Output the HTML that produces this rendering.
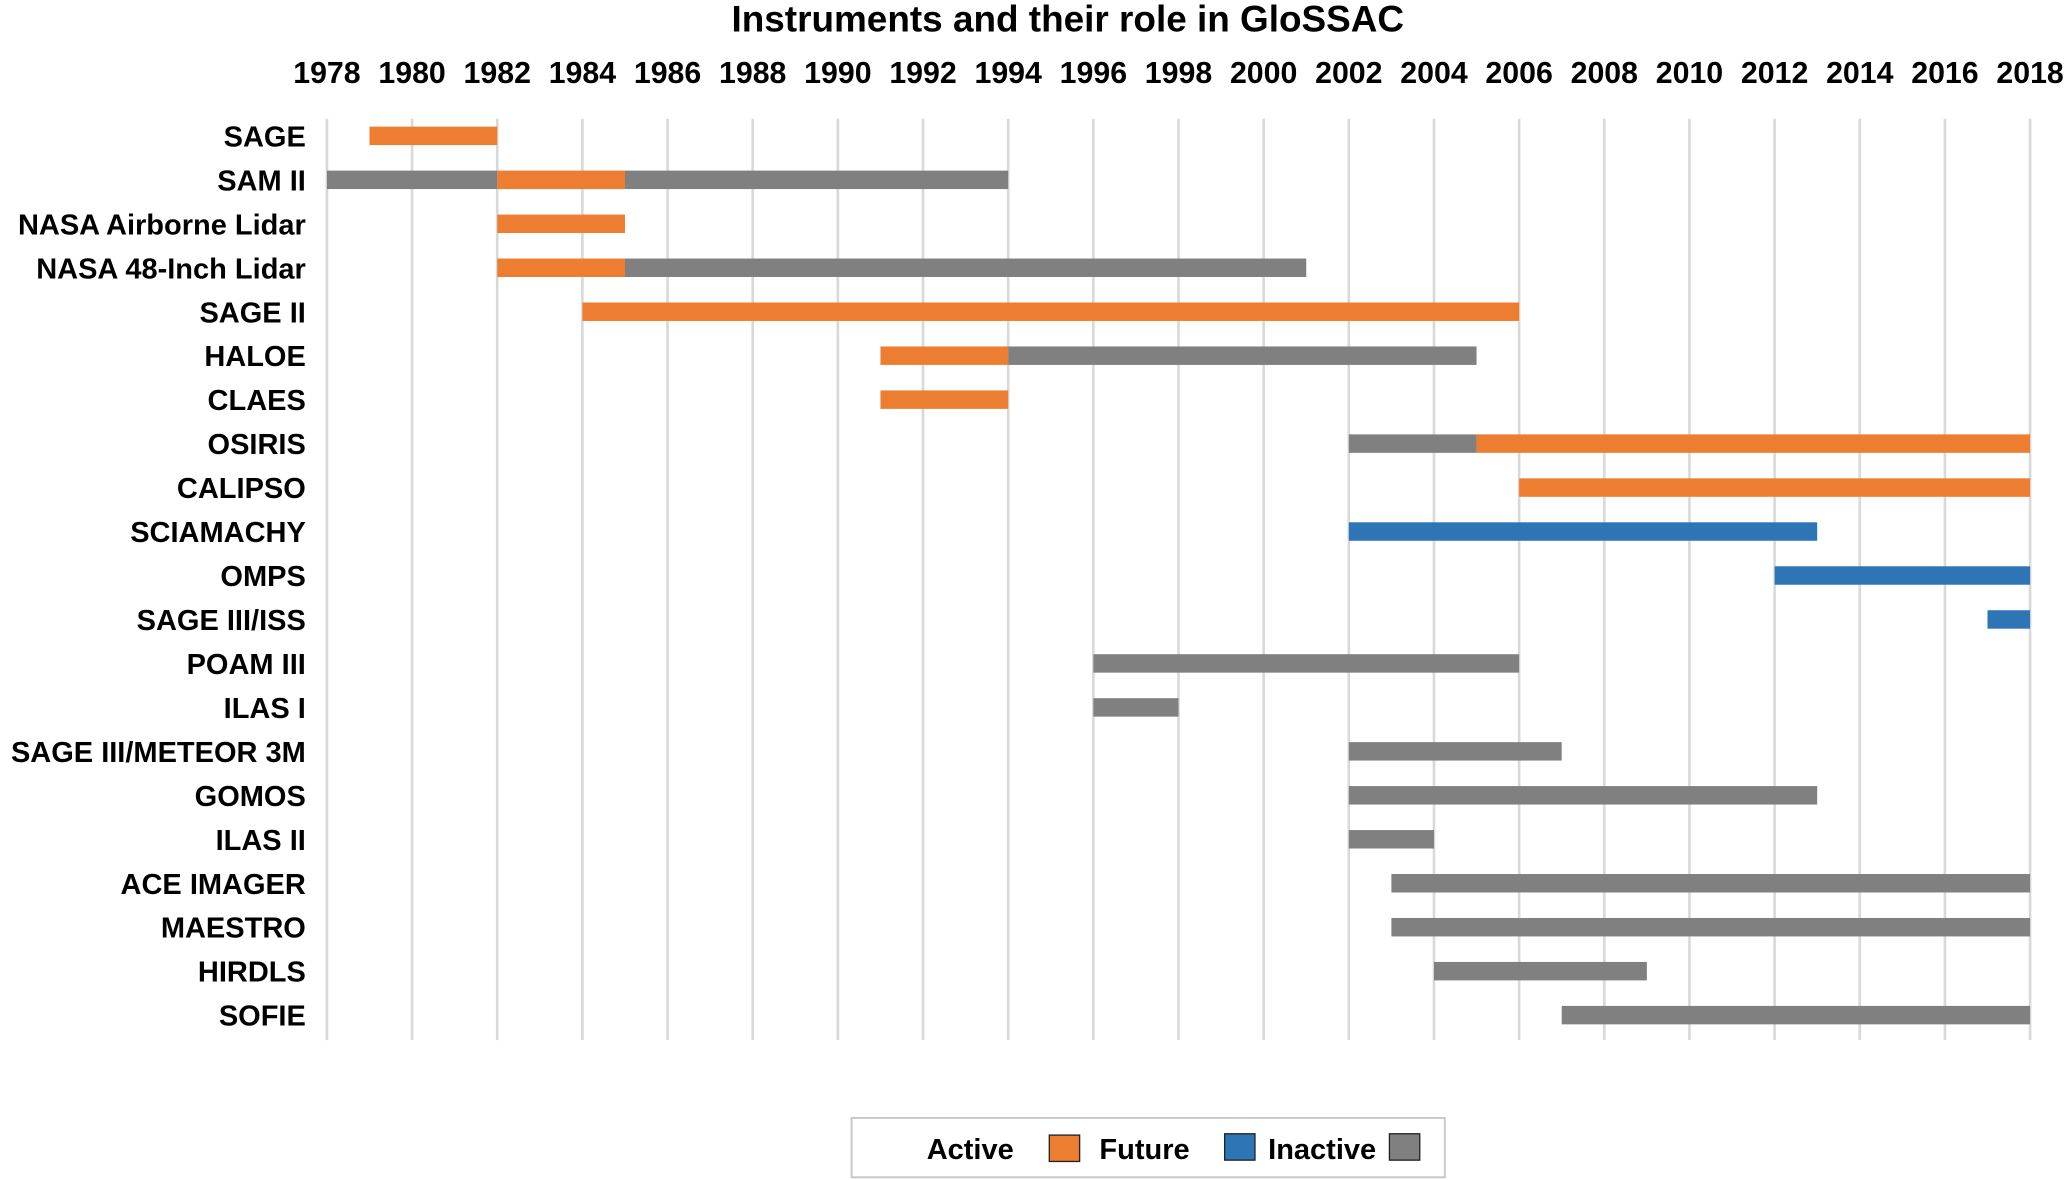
<!DOCTYPE html>
<html><head><meta charset="utf-8"><style>
html,body{margin:0;padding:0;background:#fff;}
svg{display:block;}
text{font-family:"Liberation Sans Narrow","Liberation Sans",sans-serif;font-weight:bold;fill:#000;}
</style></head><body>
<svg id="chart" width="2067" height="1180" viewBox="0 0 1568 895" xmlns="http://www.w3.org/2000/svg">
<text x="810" y="24" font-size="28" text-anchor="middle">Instruments and their role in GloSSAC</text>
<g id="grid"></g><g id="ticks"></g><g id="labels"></g><g id="bars"></g>
<g>
<rect x="646" y="848" width="450" height="45" fill="#fff" stroke="#c8c8c8" stroke-width="1.5"/>
<text x="736" y="879" font-size="22" text-anchor="middle">Active</text>
<rect x="796" y="861" width="23" height="20" fill="#ED7D31" stroke="#222" stroke-width="1"/>
<text x="834" y="879" font-size="22">Future</text>
<rect x="929" y="860" width="23" height="20" fill="#2E75B6" stroke="#222" stroke-width="1"/>
<text x="962" y="879" font-size="22">Inactive</text>
<rect x="1054" y="860" width="23" height="20" fill="#808080" stroke="#222" stroke-width="1"/>
</g>
</svg>
<script>
const instruments = ["SAGE","SAM II","NASA Airborne Lidar","NASA 48-Inch Lidar","SAGE II","HALOE","CLAES","OSIRIS","CALIPSO","SCIAMACHY","OMPS","SAGE III/ISS","POAM III","ILAS I","SAGE III/METEOR 3M","GOMOS","ILAS II","ACE IMAGER","MAESTRO","HIRDLS","SOFIE"];
const segRow   = [0,1,1,1,2,3,3,4,5,5,6,7,7,8,9,10,11,12,13,14,15,16,17,18,19,20];
const segStart = [1979,1978,1982,1985,1982,1982,1985,1984,1991,1994,1991,2002,2005,2006,2002,2012,2017,1996,1996,2002,2002,2002,2003,2003,2004,2007];
const segEnd   = [1982,1982,1985,1994,1985,1985,2001,2006,1994,2005,1994,2005,2018,2018,2013,2018,2018,2006,1998,2007,2013,2004,2018,2018,2009,2018];
const segType  = ["orange","gray","orange","gray","orange","orange","gray","orange","orange","gray","orange","gray","orange","orange","blue","blue","blue","gray","gray","gray","gray","gray","gray","gray","gray","gray"];
const yearTicks = [1978,1980,1982,1984,1986,1988,1990,1992,1994,1996,1998,2000,2002,2004,2006,2008,2010,2012,2014,2016,2018];
const colors = {orange:"#ED7D31",blue:"#2E75B6",gray:"#808080"};
const NS="http://www.w3.org/2000/svg";
const x0=248,x1=1540,yMin=1978,yMax=2018;
function xs(v){return x0+(v-yMin)*(x1-x0)/(yMax-yMin);}
function ys(i){return 103+i*33.35;}
const grid=document.getElementById('grid'),ticks=document.getElementById('ticks'),labels=document.getElementById('labels'),bars=document.getElementById('bars');
yearTicks.forEach(t=>{
  const l=document.createElementNS(NS,'line');
  l.setAttribute('x1',xs(t));l.setAttribute('x2',xs(t));l.setAttribute('y1',90);l.setAttribute('y2',789);
  l.setAttribute('stroke','#d9d9d9');l.setAttribute('stroke-width','2');
  
  
  grid.appendChild(l);
  const tx=document.createElementNS(NS,'text');
  tx.setAttribute('x',xs(t));tx.setAttribute('y',63);tx.setAttribute('font-size','23');tx.setAttribute('text-anchor','middle');
  tx.textContent=t;
  
  
  ticks.appendChild(tx);
});
instruments.forEach((n,i)=>{
  const tx=document.createElementNS(NS,'text');
  tx.setAttribute('x',232);tx.setAttribute('y',ys(i)+8);tx.setAttribute('font-size','22');tx.setAttribute('text-anchor','end');
  tx.textContent=n;
  
  
  labels.appendChild(tx);
});
segRow.forEach((r,k)=>{
  const b=document.createElementNS(NS,'rect');
  b.setAttribute('x',xs(segStart[k]));b.setAttribute('width',xs(segEnd[k])-xs(segStart[k]));
  b.setAttribute('y',ys(r)-7);b.setAttribute('height',14);b.setAttribute('fill',colors[segType[k]]);
  
  
  bars.appendChild(b);
});
</script>
</body></html>
